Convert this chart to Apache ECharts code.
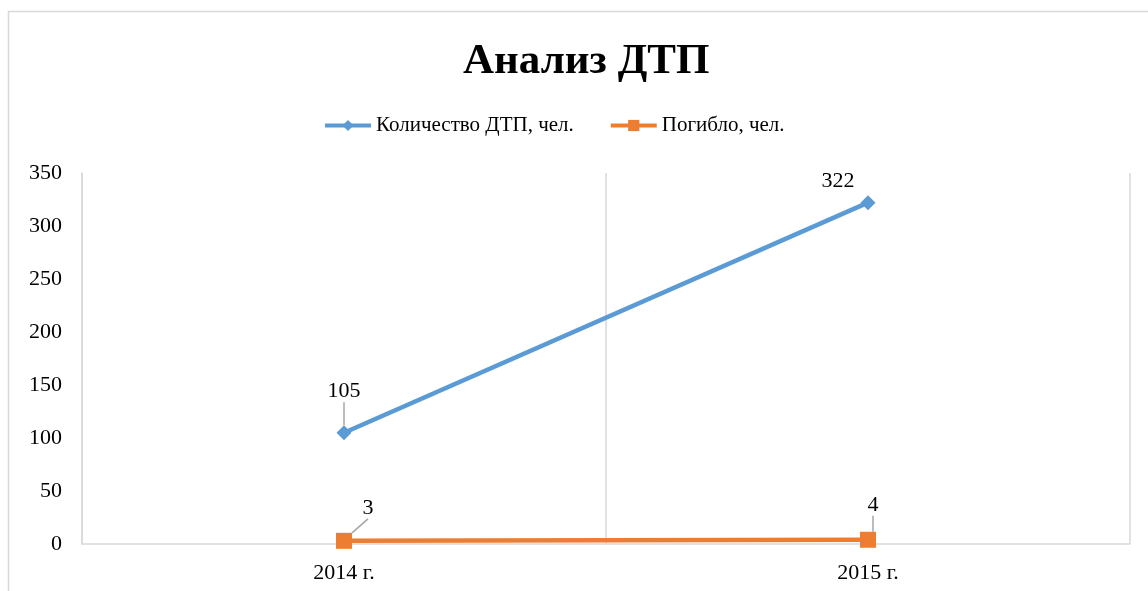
<!DOCTYPE html>
<html><head><meta charset="utf-8">
<script src="https://cdn.jsdelivr.net/npm/echarts@6/dist/echarts.min.js"></script>
<style>html,body{margin:0;padding:0;background:#fff}#c{width:1148px;height:591px}</style>
</head><body><div id="c"></div>
<script>
const categories = ['2014 г.', '2015 г.'];
const accidents = [105, 322];
const deaths = [3, 4];
const seriesNames = ['Количество ДТП, чел.', 'Погибло, чел.'];
const titleText = 'Анализ ДТП';

const font = 'Liberation Serif, Times New Roman, serif';
const chart = echarts.init(document.getElementById('c'), null, {renderer: 'canvas'});
const labelOffsets = [[{dx: 0, dy: -18}, {dx: -30, dy: 2}], [{dx: 24, dy: -9}, {dx: 5, dy: -11}]];
const leaderShown = [[true, false], [true, true]];
const toItems = (arr, s) => arr.map((v, i) => ({value: v, labelLine: {show: leaderShown[s][i]}}));
chart.setOption({
  animation: false,
  graphic: [{type: 'rect', shape: {x: 8.5, y: 11.5, width: 1160, height: 600}, style: {fill: 'none', stroke: '#d9d9d9', lineWidth: 1.5}, silent: true}],
  title: {text: titleText, left: 458, top: 35, textStyle: {fontFamily: font, fontSize: 43, fontWeight: 'bold', color: '#000'}},
  legend: {top: 110, left: 318, itemWidth: 46, itemHeight: 14, itemGap: 35,
    lineStyle: {width: 4},
    textStyle: {fontFamily: font, fontSize: 21, color: '#000'}, data: seriesNames},
  grid: {left: 82, right: 18, top: 173, bottom: 47, containLabel: false},
  xAxis: {type: 'category', data: categories, boundaryGap: true,
    axisLine: {lineStyle: {color: '#d9d9d9', width: 1.5}}, axisTick: {show: false},
    splitLine: {show: true, lineStyle: {color: '#d9d9d9', width: 1.5}},
    axisLabel: {fontFamily: font, fontSize: 22, color: '#000', margin: 18}},
  yAxis: {type: 'value', min: 0, max: 350, interval: 50,
    axisLine: {show: true, lineStyle: {color: '#d9d9d9', width: 1.5}}, axisTick: {show: false},
    splitLine: {show: false},
    axisLabel: {fontFamily: font, fontSize: 22, color: '#000', margin: 20}},
  series: [
    {name: seriesNames[0], type: 'line', data: toItems(accidents, 0), symbol: 'diamond', symbolSize: 15,
      lineStyle: {color: '#5b9bd5', width: 4.5}, itemStyle: {color: '#5b9bd5'},
      label: {show: true, position: 'top', fontFamily: font, fontSize: 22, color: '#000'},
      labelLine: {show: true, lineStyle: {color: '#a6a6a6', width: 1.5}},
      labelLayout: p => labelOffsets[0][p.dataIndex]},
    {name: seriesNames[1], type: 'line', data: toItems(deaths, 1), symbol: 'rect', symbolSize: 16,
      lineStyle: {color: '#ed7d31', width: 4.5}, itemStyle: {color: '#ed7d31'},
      label: {show: true, position: 'top', fontFamily: font, fontSize: 22, color: '#000'},
      labelLine: {show: true, lineStyle: {color: '#a6a6a6', width: 1.5}},
      labelLayout: p => labelOffsets[1][p.dataIndex]}
  ]
});
</script></body></html>
